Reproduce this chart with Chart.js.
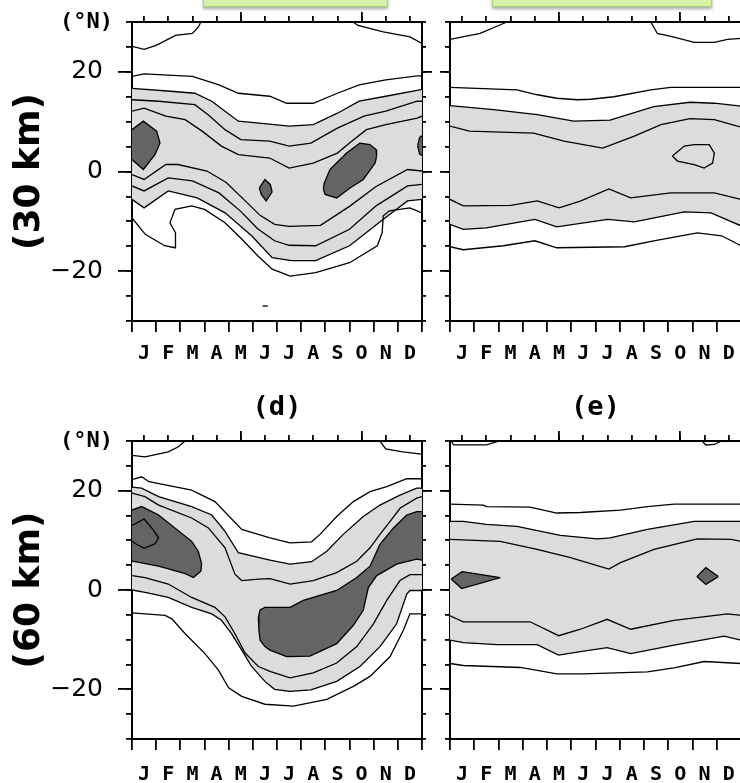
<!DOCTYPE html>
<html lang="en">
<head>
<meta charset="UTF-8">
<title>Latitude-month contours, 30 km and 60 km</title>
<script src="https://cdn.jsdelivr.net/npm/chart.js"></script>
<style>
  html, body { margin: 0; padding: 0; width: 740px; height: 783px; overflow: hidden; background: #fff; }
  canvas { position: absolute; }
  .tab { position: absolute; top: -20px; height: 25px; background: #d8f1a9; border: 1px solid #a9d273;
         box-shadow: 0 2px 3px rgba(0,0,0,.35); z-index: 2; }
</style>
</head>
<body>
<canvas id="pa" width="440" height="380" style="left:0;top:0"></canvas>
<canvas id="pb" width="320" height="380" style="left:440px;top:0"></canvas>
<canvas id="pd" width="440" height="403" style="left:0;top:380px"></canvas>
<canvas id="pe" width="320" height="403" style="left:440px;top:380px"></canvas>
<div class="tab" style="left:203px;width:183px"></div>
<div class="tab" style="left:492px;width:218px"></div>

<script>
// axes
const months     = ['J','F','M','A','M','J','J','A','S','O','N','D'];
const monthEdges = [0,1,2,3,4,5,6,7,8,9,10,11,12];
const monthMids  = [0.5,1.5,2.5,3.5,4.5,5.5,6.5,7.5,8.5,9.5,10.5,11.5];
const topMajor   = [4.5, 9.5];
const latMajor   = [-20, 0, 20];
const latMinor   = [-30,-25,-20,-15,-10,-5,0,5,10,15,20,25,30];

// contour lines, [month, latitude]; 30 km, left panel
const aTop1  = [[0,25.1],[0.5,24.5],[1.0,25.3],[1.8,27.3],[2.5,27.7],[2.75,29.0],[2.85,30]];
const aTop2  = [[9.15,30],[9.35,29.3],[10.4,28.0],[11.5,27.0],[12,25.7]];
const aC19   = [[0,19.1],[0.5,19.6],[2.5,19.1],[3.6,17.4],[4.4,15.7],[5.7,15.1],[6.4,13.7],[7.5,13.7],[8.5,15.7],[9.4,17.4],[10.5,18.4],[11.8,19.2],[12,19.2]];
const aC16   = [[0,16.7],[1.6,16.1],[2.6,15.7],[3.3,14.1],[3.85,12.1],[4.4,10.1],[5.9,9.4],[6.5,9.1],[7.5,9.4],[8.5,11.7],[9.4,14.1],[10.5,15.1],[11.8,16.3],[12,16.5]];
const aC14   = [[0,14.4],[1.1,14.1],[2.6,13.4],[3.15,11.4],[3.85,8.4],[4.5,6.4],[5.7,6.1],[6.5,5.1],[7.4,5.7],[8.5,8.7],[9.6,11.1],[10.5,12.1],[11.8,14.1],[12,14.1]];
const aC12   = [[0,12.1],[0.5,12.7],[1.4,11.1],[2.2,10.4],[2.9,8.1],[3.7,5.1],[4.4,3.4],[5.7,2.7],[6.5,0.7],[7.5,1.7],[8.5,3.7],[9.0,5.7],[9.7,8.4],[10.5,9.4],[11.8,10.7],[12,11.1]];
const aC0    = [[0,-0.6],[0.5,-1.6],[1.4,1.4],[1.9,1.4],[3.1,0.1],[3.9,-2.2],[4.6,-5.5],[5.3,-8.8],[5.9,-10.6],[6.5,-11.0],[7.8,-10.8],[9.0,-7.0],[10.1,-3.0],[11.4,0.4],[12,0.1]];
const aCm3   = [[0,-2.9],[0.5,-3.9],[1.5,-1.3],[2.5,-1.9],[3.6,-4.3],[4.5,-8.0],[5.2,-11.5],[5.9,-13.9],[6.5,-14.8],[7.6,-14.9],[9.0,-11.6],[10.1,-6.9],[11.4,-2.9],[12,-2.6]];
const aCm5   = [[0,-5.6],[0.5,-7.3],[1.5,-3.9],[2.7,-5.3],[3.85,-8.3],[4.95,-12.9],[5.8,-17.3],[6.6,-17.9],[7.6,-17.9],[9.0,-14.9],[10.4,-9.6],[11.4,-5.9],[12,-5.6]];
const aCm9   = [[0,-9.3],[0.55,-12.6],[1.35,-14.9],[1.78,-15.3],[1.8,-12.3],[1.57,-10.3],[1.78,-7.6],[2.47,-6.9],[3.0,-7.6],[3.85,-10.3],[4.55,-13.6],[5.2,-16.9],[5.8,-19.6],[6.55,-21.0],[7.6,-20.3],[9.0,-18.3],[10.15,-14.9],[10.35,-12.3],[10.4,-8.9],[10.65,-7.9],[11.5,-7.3],[12,-8.3]];
const aDash  = [[5.4,-27],[5.62,-27]];
const aD1Up  = [[0,8.4],[0.47,10.1],[1.02,8.1],[1.16,5.7]];
const aD1Lo  = [[0,2.4],[0.47,0.4],[0.95,3.4],[1.16,5.7]];
const aD2Up  = [[5.27,-3.3],[5.5,-1.6],[5.72,-2.6],[5.8,-4.1]];
const aD2Lo  = [[5.27,-3.3],[5.35,-4.6],[5.55,-5.9],[5.8,-4.1]];
const aD3Up  = [[7.92,-3.5],[7.95,-2.4],[8.19,0.4],[8.88,3.7],[9.43,5.7],[9.85,5.4],[10.1,4.4],[10.12,3.0]];
const aD3Lo  = [[7.92,-3.5],[7.99,-4.6],[8.47,-5.3],[9.02,-3.3],[9.57,-1.6],[10.06,1.7],[10.12,3.0]];
const aD4Up  = [[11.82,5.2],[11.9,6.8],[12,7.2]];
const aD4Lo  = [[11.82,5.2],[11.9,3.5],[12,3.2]];

// 30 km, right panel
const bTop1  = [[0,26.5],[1.24,27.7],[2.2,29.7],[2.35,30]];
const bTop2  = [[8.28,30],[8.55,27.7],[9.2,27.0],[10.07,25.9],[10.9,25.9],[11.45,26.5],[12,26.7]];
const bC17   = [[0,16.9],[2.76,16.4],[3.6,15.4],[4.4,14.7],[5.24,14.4],[5.8,14.5],[6.76,15.0],[8.28,16.4],[9.1,16.9],[12,16.9]];
const bC13   = [[0,13.2],[1.8,12.4],[3.6,11.4],[5.1,10.1],[6.6,10.3],[8.4,13.0],[9.9,13.9],[10.9,13.7],[12,13.1]];
const bC9    = [[0,9.1],[0.8,8.1],[3.45,7.7],[4.7,6.1],[6.3,4.7],[7.6,7.1],[8.7,9.4],[9.9,10.6],[10.9,10.4],[12,8.9]];
const bLoop  = [[9.17,3.1],[9.66,5.1],[10.07,5.4],[10.69,5.4],[10.9,3.7],[10.83,1.7],[10.48,0.7],[10.07,1.4],[9.38,2.1],[9.17,3.1]];
const bCm5   = [[0,-5.6],[0.55,-6.9],[2.5,-6.8],[3.6,-5.9],[4.5,-7.3],[5.4,-5.9],[6.55,-3.5],[7.45,-5.3],[9.1,-4.3],[10.9,-4.3],[12,-5.6]];
const bCm10  = [[0,-10.6],[0.55,-11.6],[1.5,-11.3],[3.5,-9.6],[4.4,-11.1],[6.5,-9.6],[7.6,-10.1],[9.66,-8.1],[10.76,-8.3],[12,-10.9]];
const bCm15  = [[0,-15.1],[0.55,-15.7],[2.2,-14.9],[3.5,-13.9],[4.4,-15.3],[7.2,-15.1],[8.4,-13.9],[10.2,-12.3],[11.2,-12.9],[12,-14.9]];

// 60 km, left panel (d)
const dTop1  = [[0,27.1],[0.54,26.8],[1.5,27.8],[1.9,28.8],[2.2,30]];
const dTop2  = [[10.26,30],[10.5,28.4],[11.2,27.8],[11.9,27.4],[12,27.3]];
const dC22   = [[0,22.2],[0.4,22.8],[0.7,21.8],[2.47,20.1],[3.43,17.8],[4.54,12.2],[5.71,10.5],[6.54,9.5],[7.43,9.7],[7.78,11.2],[8.47,14.8],[9.16,17.8],[9.85,19.8],[10.54,20.8],[11.37,22.4],[12,22.4]];
const dC20   = [[0,20.7],[0.4,20.5],[1.1,18.8],[2.47,16.8],[3.3,15.1],[3.85,11.8],[4.4,7.5],[5.71,6.0],[6.54,5.2],[7.43,5.7],[8.06,7.8],[8.74,11.2],[9.57,14.8],[10.26,17.1],[11.09,19.1],[11.78,20.5],[12,20.5]];
const dC18   = [[0,19.5],[0.54,18.8],[1.1,17.1],[2.47,14.5],[3.16,12.5],[3.85,8.5],[4.26,3.2],[4.54,1.9],[5.23,2.2],[5.71,2.3],[6.54,1.2],[7.5,1.9],[8.47,3.5],[9.3,5.8],[9.85,8.5],[10.26,11.2],[10.68,13.8],[11.1,16.5],[11.78,18.5],[12,18.8]];
const dLoop  = [[0,13.0],[0.5,14.3],[0.85,12.3],[1.1,10.5],[0.95,9.3],[0.5,8.4],[0.15,9.3],[0,9.8]];
const dDLUp  = [[0,16.1],[0.4,16.8],[1.1,15.1],[2.47,9.8],[2.74,7.8],[2.88,5.3]];
const dDLLo  = [[0,5.8],[1.1,4.8],[2.2,3.3],[2.54,2.5],[2.85,3.8],[2.88,5.3]];
const dDRUp  = [[5.23,-5.5],[5.3,-4.0],[5.5,-3.5],[6.54,-3.5],[7.09,-2.1],[8.47,-0.1],[9.3,2.5],[9.85,4.8],[10.26,9.2],[10.82,12.5],[11.37,15.1],[11.78,15.8],[12,15.8]];
const dDRLo  = [[5.23,-5.5],[5.25,-8.0],[5.3,-10.1],[5.5,-11.4],[5.71,-12.1],[6.4,-13.4],[7.36,-13.3],[8.47,-10.8],[9.16,-7.1],[9.57,-4.1],[9.78,0.5],[10.13,2.9],[10.95,5.2],[11.78,6.2],[12,6.0]];
const dC3    = [[0,2.9],[0.54,2.5],[1.5,1.2],[2.47,-1.5],[3.43,-3.5],[3.85,-5.4],[4.26,-8.8],[4.68,-12.7],[5.23,-15.4],[5.71,-16.4],[6.54,-17.7],[7.5,-16.7],[8.47,-14.7],[9.3,-11.4],[9.99,-6.8],[10.54,-2.1],[11.09,1.9],[11.5,3.1],[12,3.1]];
const dC0    = [[0,0],[0.54,-0.5],[1.5,-1.5],[2.47,-3.5],[3.3,-4.8],[3.7,-6.1],[4.12,-8.8],[4.54,-12.1],[4.95,-15.4],[5.5,-18.4],[5.9,-20.0],[6.54,-20.4],[7.4,-20.1],[8.47,-18.4],[9.43,-15.4],[10.26,-11.4],[10.95,-6.8],[11.37,-0.8],[11.5,-0.1],[12,-0.1]];
const dCm5   = [[0,-4.6],[1.37,-5.1],[1.65,-5.8],[2.2,-8.8],[3.0,-12.7],[3.57,-16.1],[4.0,-19.7],[4.54,-21.4],[5.5,-23.0],[6.68,-23.4],[8.06,-22.0],[9.16,-19.4],[9.85,-17.4],[10.68,-13.4],[11.23,-8.1],[11.5,-4.8],[12,-4.8]];

// 60 km, right panel (e)
const eTop1  = [[0.05,30],[0.15,29.2],[1.5,29.2],[2.05,30]];
const eTop2  = [[10.4,30],[10.55,29.2],[10.9,29.3],[11.2,30]];
const eC17   = [[0,17.3],[1.38,17.1],[1.5,16.8],[3.3,16.7],[4.4,15.5],[5.38,15.6],[7.03,16.1],[8.14,16.8],[9.24,17.3],[12,17.3]];
const eC14   = [[0,13.8],[0.55,13.8],[1.5,13.2],[2.76,12.8],[4.55,11.0],[6.07,10.3],[6.6,10.5],[8.14,12.2],[10.07,13.8],[12,13.8]];
const eC10   = [[0,10.2],[2.07,9.8],[3.59,8.2],[4.97,6.5],[6.55,4.2],[7.03,5.5],[8.41,8.2],[10.2,10.3],[11.6,10.2],[12,9.8]];
const eD1Up  = [[0.05,2.2],[0.5,3.7],[2.07,2.5]];
const eD1Lo  = [[0.05,2.2],[0.48,0.3],[2.07,2.5]];
const eD2Up  = [[10.18,2.7],[10.55,4.5],[11.06,2.7]];
const eD2Lo  = [[10.18,2.7],[10.55,1.1],[11.06,2.7]];
const eCm5   = [[0,-5.2],[0.55,-6.4],[3.3,-6.4],[4.48,-9.2],[5.38,-7.9],[6.48,-5.9],[7.45,-7.9],[9.24,-6.1],[11.45,-4.8],[12,-5.1]];
const eCm10  = [[0,-10.1],[0.55,-10.6],[1.93,-11.0],[3.59,-11.0],[4.48,-13.1],[5.38,-12.4],[6.48,-11.6],[7.45,-12.8],[9.24,-11.1],[11.3,-9.3],[12,-10.1]];
const eCm15  = [[0,-14.8],[0.55,-15.2],[2.9,-15.6],[4.41,-16.9],[5.5,-16.9],[8.14,-16.5],[9.24,-15.7],[10.48,-14.4],[12,-14.8]];

const LIGHT = '#dcdcdc';
const DARK  = '#646464';
const black = '#000';
const frame = { display: true, color: black, width: 2 };
const monoBold = size => ({ family: 'DejaVu Sans Mono', size: size, weight: 'bold' });
const monthTicks = monthEdges.concat(monthMids).sort((a, b) => a - b);

function contour(pts, extra) {
  return Object.assign({
    data: pts.map(p => ({ x: p[0], y: p[1] })),
    borderColor: black, borderWidth: 1.3, pointRadius: 0, pointHitRadius: 0,
    tension: 0, fill: false
  }, extra || {});
}

// shaded pairs are [upper, lower, colour]; the upper line fills down to the next dataset
function buildDatasets(bands, lines) {
  const ds = [];
  bands.forEach(b => {
    ds.push(contour(b[0], { fill: '+1', backgroundColor: b[2] }));
    ds.push(contour(b[1]));
  });
  lines.forEach(l => ds.push(contour(l)));
  ds.forEach((d, i) => { d.order = ds.length - i; });
  return ds;
}

const fixTicks = values => s => { s.ticks = values.map(v => ({ value: v })); };

// fixed box size, and no label overhang pushing the plot area around
function fixSize(dim, size) {
  return s => {
    s[dim] = size;
    s.paddingTop = s.paddingBottom = s.paddingLeft = s.paddingRight = 0;
  };
}

function scalesFor(g) {
  const lat = { type: 'linear', axis: 'y', min: -30, max: 30 };
  const mon = { type: 'linear', axis: 'x', min: 0, max: 12 };
  return {
    x: Object.assign({}, mon, {
      position: 'bottom', weight: 0,
      afterBuildTicks: fixTicks(monthTicks),
      afterFit: fixSize('height', g.bottom),
      border: frame,
      grid: { drawOnChartArea: false, tickLength: 11, lineWidth: 1.8, color: black,
              tickColor: c => (c.tick && Number.isInteger(c.tick.value)) ? black : 'rgba(0,0,0,0)' },
      ticks: { autoSkip: false, maxRotation: 0, minRotation: 0, padding: g.labelPad, color: black,
               font: monoBold(20), callback: v => Number.isInteger(v) ? '' : months[Math.floor(v)] }
    }),
    xTop: Object.assign({}, mon, {
      position: 'top', weight: 1,
      afterBuildTicks: fixTicks(topMajor),
      afterFit: fixSize('height', g.top),
      border: frame,
      grid: { drawOnChartArea: false, tickLength: 10, lineWidth: 1.8, color: black },
      ticks: { display: false }
    }),
    xTopMinor: Object.assign({}, mon, {
      position: 'top', weight: 0,
      afterBuildTicks: fixTicks(monthMids),
      afterFit: fixSize('height', 0),
      border: { display: false },
      grid: { drawOnChartArea: false, tickLength: 6, lineWidth: 1.8, color: black },
      ticks: { display: false }
    }),
    y: Object.assign({}, lat, {
      position: 'left', weight: 1,
      afterBuildTicks: fixTicks(latMajor),
      afterFit: fixSize('width', g.left),
      border: frame,
      grid: { drawOnChartArea: false, tickLength: g.majorLeft, lineWidth: 1.8, color: black },
      ticks: { display: !!g.yTitle, autoSkip: false, padding: 15, color: black,
               font: { family: 'DejaVu Sans', size: 25 },
               callback: v => v < 0 ? '\u2212' + (-v) : String(v) },
      title: { display: !!g.yTitle, text: g.yTitle, color: black,
               font: { family: 'DejaVu Sans', size: 36, weight: 'bold' }, padding: { top: 8, bottom: 0 } }
    }),
    // minor latitude ticks; the unit label sits on its top tick (mirror keeps it from being clipped)
    yMinor: Object.assign({}, lat, {
      position: 'left', weight: 0,
      afterBuildTicks: fixTicks(latMinor),
      afterFit: fixSize('width', 0),
      border: { display: false },
      grid: { drawOnChartArea: false, tickLength: g.minorLeft, lineWidth: 1.8, color: black },
      ticks: { display: !!g.yTitle, mirror: true, crossAlign: 'near', autoSkip: false, padding: -72,
               color: black, font: monoBold(22), callback: v => v === 30 ? '(\u00b0N)' : '' }
    }),
    yRight: Object.assign({}, lat, {
      position: 'right', weight: 1,
      afterBuildTicks: fixTicks(latMajor),
      afterFit: fixSize('width', g.right),
      border: frame,
      grid: { drawOnChartArea: false, tickLength: 10, lineWidth: 1.8, color: black },
      ticks: { display: false }
    }),
    yRightMinor: Object.assign({}, lat, {
      position: 'right', weight: 0,
      afterBuildTicks: fixTicks(latMinor),
      afterFit: fixSize('width', 0),
      border: { display: false },
      grid: { drawOnChartArea: false, tickLength: 4, lineWidth: 1.8, color: black },
      ticks: { display: false }
    })
  };
}

function panel(id, g, datasets) {
  return new Chart(document.getElementById(id), {
    type: 'line',
    data: { datasets: datasets },
    options: {
      responsive: false, animation: false, events: [],
      layout: { padding: 0, autoPadding: false },
      scales: scalesFor(g),
      plugins: {
        legend: { display: false },
        tooltip: { enabled: false },
        title: { display: !!g.title, text: g.title, fullSize: false, color: black,
                 font: monoBold(27), padding: { top: 12, bottom: 0 } }
      }
    }
  });
}

panel('pa', { left: 132, top: 22, right: 18, bottom: 59, labelPad: 10, majorLeft: 14, minorLeft: 6, yTitle: '(30 km)' },
  buildDatasets(
    [[aC16, aCm5, LIGHT], [aD1Up, aD1Lo, DARK], [aD2Up, aD2Lo, DARK], [aD3Up, aD3Lo, DARK], [aD4Up, aD4Lo, DARK]],
    [aTop1, aTop2, aC19, aC14, aC12, aC0, aCm3, aCm9, aDash]));

panel('pb', { left: 10, top: 22, right: 19, bottom: 59, labelPad: 10, majorLeft: 10, minorLeft: 5 },
  buildDatasets(
    [[bC13, bCm10, LIGHT]],
    [bTop1, bTop2, bC17, bC9, bLoop, bCm5, bCm15]));

panel('pd', { left: 132, top: 16.6, right: 18, bottom: 44, labelPad: 13, majorLeft: 14, minorLeft: 6, yTitle: '(60 km)', title: '(d)' },
  buildDatasets(
    [[dC20, dC0, LIGHT], [dDLUp, dDLLo, DARK], [dDRUp, dDRLo, DARK]],
    [dTop1, dTop2, dC22, dC18, dLoop, dC3, dCm5]));

panel('pe', { left: 10, top: 16.6, right: 19, bottom: 44, labelPad: 13, majorLeft: 10, minorLeft: 5, title: '(e)' },
  buildDatasets(
    [[eC14, eCm10, LIGHT], [eD1Up, eD1Lo, DARK], [eD2Up, eD2Lo, DARK]],
    [eTop1, eTop2, eC17, eC10, eCm5, eCm15]));
</script>
</body>
</html>
